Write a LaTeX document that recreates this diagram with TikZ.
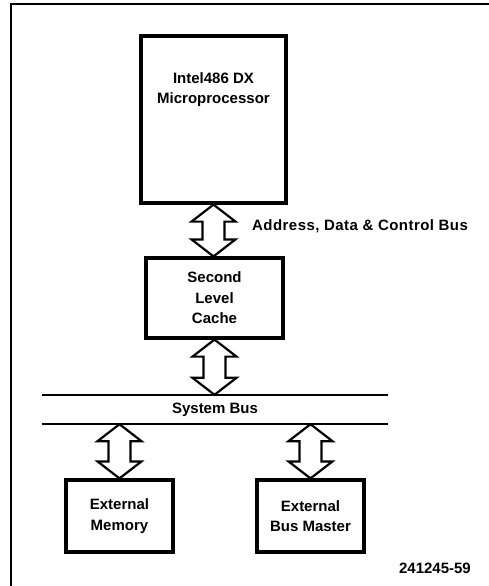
\documentclass[tikz,border=0pt]{standalone}
\usepackage{fontspec}
\setmainfont{Liberation Sans}
\usetikzlibrary{calc,positioning}

\begin{document}
\begin{tikzpicture}[x=1pt,y=-1pt,
  blk/.style={draw,line width=3.2pt,inner sep=0pt},
  lbl/.style={font=\fontsize{15}{20.5}\selectfont\bfseries,align=center,inner sep=0pt},
  busarrow/.style={line width=2.2pt,line join=miter,
    to path={let \p1=(\tikztostart), \p2=(\tikztotarget) in
      (\x1,\y1) -- (\x1+22pt,\y1-17pt) -- (\x1+11pt,\y1-17pt) -- (\x1+11pt,\y2+17pt)
      -- (\x1+22pt,\y2+17pt) -- (\x1,\y2) -- (\x1-22pt,\y2+17pt) -- (\x1-11pt,\y2+17pt)
      -- (\x1-11pt,\y1-17pt) -- (\x1-22pt,\y1-17pt) -- cycle}}]
  \useasboundingbox (0,0) rectangle (489,586);
  % frame
  \draw[line width=2pt] (489,4) -- (11,4) -- (11,586);
  % processor
  \node[blk,minimum width=145pt,minimum height=167pt] (cpu) at (213.5,119.5) {};
  \node[lbl] (cputxt) at (213.5,89.5) {Intel486 DX\\Microprocessor};
  % cache
  \node[blk,minimum width=137pt,minimum height=80pt] (cache) at (214.5,298) {};
  \node[lbl] (cachetxt) at (cache.center) {Second\\Level\\Cache};
  \draw[busarrow] (cpu.south) to (cache.north);
  \node[lbl,anchor=west] (addr) at (252,226) {\addfontfeatures{LetterSpace=3}Address, Data \& Control Bus};
  % system bus
  \node[lbl,minimum width=346pt,minimum height=29pt] (sysbus) at (215,409.5) {System Bus};
  \draw[line width=2.2pt] (sysbus.north west) -- (sysbus.north east);
  \draw[line width=2.2pt] (sysbus.south west) -- (sysbus.south east);
  \draw[busarrow] (cache.south) to (sysbus.north -| cache.south);
  % memory and bus master
  \node[blk,minimum width=107pt,minimum height=72pt] (mem) at (119.5,516) {};
  \node[lbl] (memtxt) at (mem.center) {External\\Memory};
  \node[blk,minimum width=107pt,minimum height=72pt] (master) at (310.5,516) {};
  \node[lbl] (mastertxt) at (master.center) {External\\Bus Master};
  \coordinate (tapmem) at (sysbus.south -| mem.north);
  \coordinate (tapmaster) at (sysbus.south -| master.north);
  \draw[busarrow] (tapmem) to (mem.north);
  \draw[busarrow] (tapmaster) to (master.north);
  % figure number
  \node[lbl,anchor=east] (fignum) at (471,568) {241245-59};
\end{tikzpicture}
\end{document}
